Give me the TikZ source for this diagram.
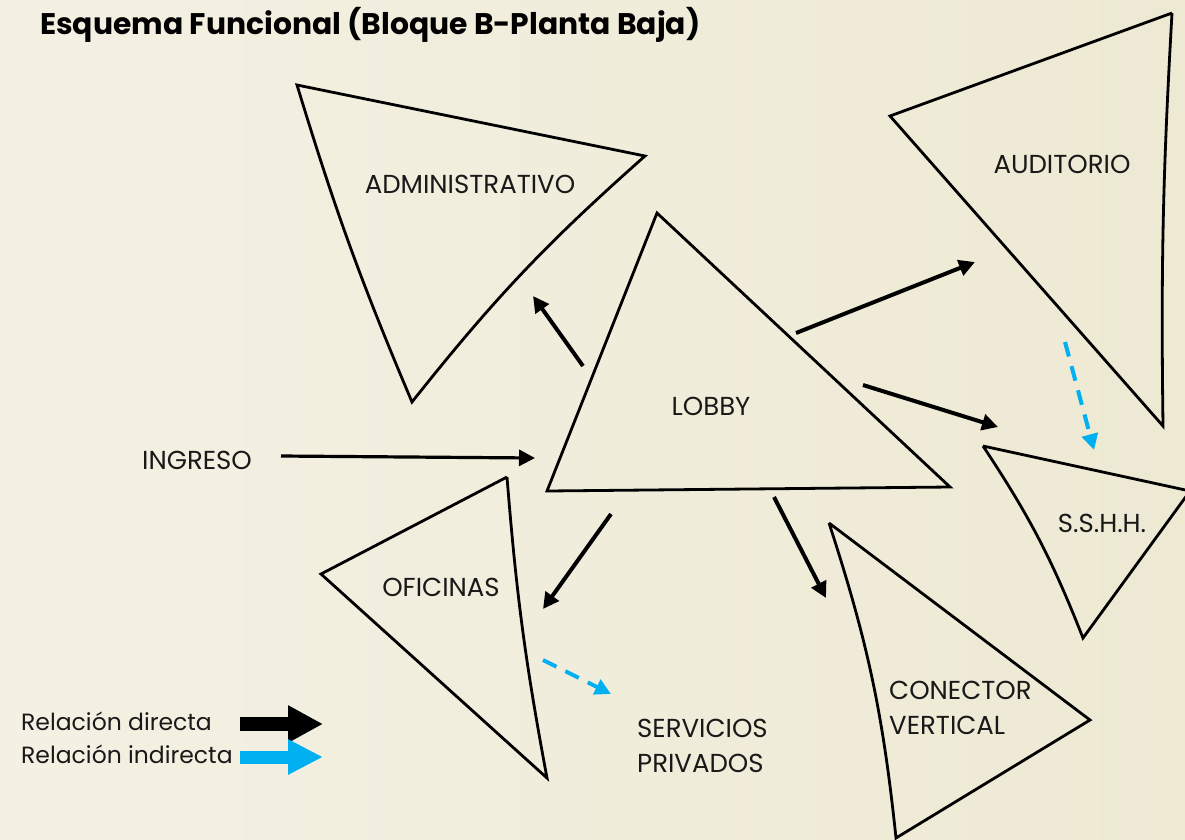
\documentclass[tikz,border=0pt]{standalone}
\usepackage{fontspec}
\setmainfont{Poppins}
\usetikzlibrary{arrows.meta}
\definecolor{bgL}{HTML}{F4F1E4}
\definecolor{bgR}{HTML}{EDE9D3}
\definecolor{cyanarrow}{HTML}{00B0F0}
\tikzset{
  tri/.style={draw=black, line width=2.8pt, line join=miter},
  lbl/.style={font=\fontsize{26}{30}\selectfont, text=black!90, inner sep=0pt},
  two/.style={font=\fontsize{26}{35}\selectfont, anchor=west, align=left},
  leg/.style={font=\fontsize{23.5}{27}\selectfont, anchor=west},
  direct/.style={draw=black, line width=4pt, -{Triangle[length=16pt,width=16pt]}},
  indirect/.style={draw=cyanarrow, line width=4pt, dash pattern=on 15pt off 10pt, -{Triangle[length=16pt,width=16pt]}},
}
\begin{document}
\begin{tikzpicture}[x=1pt,y=-1pt]
\useasboundingbox (0,0) rectangle (1185,839);
\fill[left color=bgL, right color=bgR] (0,0) rectangle (1185,839);

% title
\node[anchor=base west, inner sep=0pt, font=\fontsize{29.8}{34}\selectfont\bfseries] (title) at (40,34) {Esquema Funcional (Bloque B-Planta Baja)};

% triangles
\coordinate (a1) at (297,85); \coordinate (a2) at (645,156); \coordinate (a3) at (412,402);
\draw[tri] (a1) -- (a2) to[bend right=5] (a3) to[bend left=3] cycle;
\coordinate (l1) at (657,213); \coordinate (l2) at (547,491); \coordinate (l3) at (950,487);
\draw[tri] (l1) -- (l2) -- (l3) -- cycle;
\coordinate (u1) at (1172,13); \coordinate (u2) at (890,116); \coordinate (u3) at (1163,426);
\draw[tri] (u1) -- (u2) -- (u3) to[bend left=2] (u1);
\coordinate (s1) at (983,446); \coordinate (s2) at (1190,491); \coordinate (s3) at (1083,638);
\draw[tri] (s1) -- (s2) -- (s3) to[bend right=6] (s1);
\coordinate (o1) at (507,477); \coordinate (o2) at (321,574); \coordinate (o3) at (547,778);
\draw[tri] (o1) -- (o2) -- (o3) to[bend left=3] (o1);
\coordinate (c1) at (829,523); \coordinate (c2) at (1090,720); \coordinate (c3) at (896,838);
\draw[tri] (c1) -- (c2) -- (c3) to[bend right=6] (c1);

% labels
\node[lbl] (admin) at (470,184) {ADMINISTRATIVO};
\node[lbl] (lobby) at (711,406) {LOBBY};
\node[lbl] (audit) at (1062,164) {AUDITORIO};
\node[lbl] (sshh) at (1102,523) {S.S.H.H.};
\node[lbl] (ofic) at (441,587) {OFICINAS};
\node[lbl, two] (conec) at (889,708) {CONECTOR\\VERTICAL};
\node[lbl, two] (serv) at (637,746) {SERVICIOS\\PRIVADOS};
\node[lbl] (ingreso) at (197,460) {INGRESO};

% connector endpoints
\coordinate (i0) at (281,456); \coordinate (i1) at (535,458);
\coordinate (la0) at (583,366); \coordinate (la1) at (533,296);
\coordinate (lu0) at (796,333); \coordinate (lu1) at (975,262);
\coordinate (ls0) at (863,385); \coordinate (ls1) at (998,427);
\coordinate (lo0) at (611,514); \coordinate (lo1) at (543,609);
\coordinate (lc0) at (774,497); \coordinate (lc1) at (826,598);
\coordinate (us0) at (1065,342); \coordinate (us1) at (1094,450);
\coordinate (os0) at (543,660); \coordinate (os1) at (611,694);

\draw[direct, line width=3.2pt] (i0) -- (i1);
\draw[direct] (la0) -- (la1);
\draw[direct] (lu0) -- (lu1);
\draw[direct] (ls0) -- (ls1);
\draw[direct] (lo0) -- (lo1);
\draw[direct] (lc0) -- (lc1);
\draw[indirect] (us0) -- (us1);
\draw[indirect] (os0) -- (os1);

% legend
\node[lbl, leg] (legd) at (21,721) {Relación directa};
\node[lbl, leg] (legi) at (21,754) {Relación indirecta};
\coordinate (bd0) at (240,724); \coordinate (bd1) at (323,724);
\coordinate (bi0) at (240,757); \coordinate (bi1) at (323,757);
\draw[black, line width=14pt, -{Triangle[length=35pt,width=35pt]}] (bd0) -- (bd1);
\draw[cyanarrow, line width=13pt, -{Triangle[length=35pt,width=33pt]}] (bi0) -- (bi1);
\end{tikzpicture}
\end{document}
